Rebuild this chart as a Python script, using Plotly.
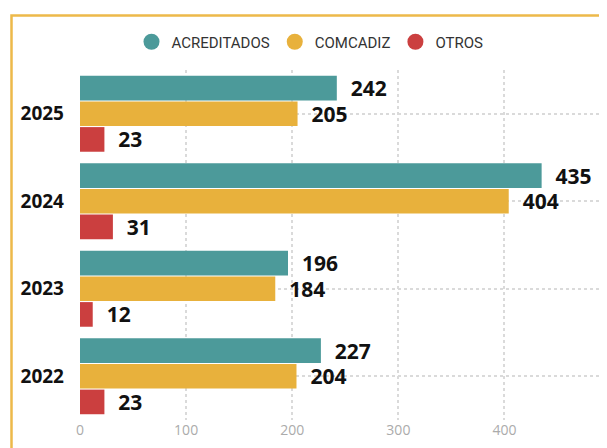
import plotly.graph_objects as go

years = ["2022", "2023", "2024", "2025"]
acreditados = [227, 196, 435, 242]
comcadiz = [204, 184, 404, 205]
otros = [23, 12, 31, 23]
series_names = ["ACREDITADOS", "COMCADIZ", "OTROS"]
colors = ["#4C9A9A", "#E8B13C", "#CB3F3F"]
x_ticks = [0, 100, 200, 300, 400]

OFF = 8  # page body margin
W, H = 607 - OFF, 448 - OFF
ml, mt = 80 - OFF, 70 - OFF
mr = W - (600 - OFF)
mb = H - (420 - OFF)
pw, ph = W - ml - mr, H - mt - mb

fig = go.Figure()
# bars: first trace sits at bottom of each group
for name, vals, col in [(series_names[2], otros, colors[2]),
                        (series_names[1], comcadiz, colors[1]),
                        (series_names[0], acreditados, colors[0])]:
    fig.add_trace(go.Bar(
        y=years, x=vals, orientation="h", name=name,
        marker=dict(color=col, line=dict(width=0)),
        texttemplate="  %{x}", textposition="outside", constraintext="none",
        textfont=dict(family="Open Sans", size=21, color="#111111", weight="bold"),
        cliponaxis=False, showlegend=False,
    ))
# legend entries with circle markers
for name, col in zip(series_names, colors):
    fig.add_trace(go.Scatter(
        x=[None], y=[None], mode="markers", name=name,
        marker=dict(symbol="circle", size=16, color=col),
    ))

def px2paper_x(px):
    return (px - OFF - ml) / pw

def px2paper_y(py):
    return 1 - (py - OFF - mt) / ph

fig.add_shape(type="rect", xref="paper", yref="paper",
              x0=px2paper_x(11.5), x1=px2paper_x(640),
              y0=px2paper_y(480), y1=px2paper_y(15.5),
              line=dict(color="#EDB94A", width=2.5), fillcolor="rgba(0,0,0,0)",
              layer="above")

fig.update_layout(
    width=W, height=H,
    margin=dict(l=ml, r=mr, t=mt, b=mb, autoexpand=False),
    paper_bgcolor="white", plot_bgcolor="white",
    barmode="group", bargap=0.12, bargroupgap=0.04,
    showlegend=True,
    legend=dict(orientation="h", x=px2paper_x(310), xanchor="center",
                y=px2paper_y(42), yanchor="middle",
                font=dict(family="Roboto", size=15, color="#333333"),
                itemwidth=30, tracegroupgap=0),
    xaxis=dict(range=[0, 490], tickvals=x_ticks, showgrid=True,
               gridcolor="#DADADA", griddash="dot", gridwidth=1.5,
               zeroline=False, showline=False, ticks="", automargin=False,
               tickfont=dict(family="Open Sans", size=14, color="#ABABAB")),
    yaxis=dict(type="category", categoryorder="array", categoryarray=years,
               showgrid=True, gridcolor="#DADADA", griddash="dot", gridwidth=1.5,
               zeroline=False, showline=False, ticks="", ticklabelstandoff=15,
               automargin=False,
               tickfont=dict(family="Open Sans", size=19, color="#111111", weight="bold")),
)

fig.write_html("out.html")
